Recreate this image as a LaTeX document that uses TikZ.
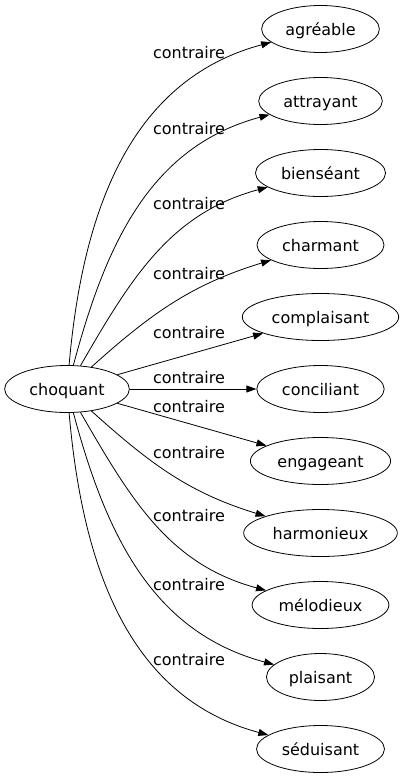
\documentclass[tikz,border=0pt]{standalone}
\usepackage{fontspec}
\setmainfont{DejaVu Sans}
\usetikzlibrary{shapes.geometric,arrows.meta}

\tikzset{
	synpicture/.style = {
		x = 1pt,
		y = -1pt,
		node distance = 72pt,
		font = \fontsize{16pt}{19pt}\selectfont,
		>={Triangle[length=10pt, width=7pt]},
		arrow/.style = {
			draw,
			->,
			line width = 0.8pt,
		}
	},
	wordnode/.style = {
		ellipse,
		draw = black,
		line width = 0.8pt,
		minimum height = 47pt,
		inner xsep = 6.5pt,
		inner ysep = 0pt,
		text height = 12pt,
		text depth = 0pt
	},
	relation/.style = {
		inner sep = 0pt,
		text height = 12pt,
		text depth = 0pt
	}
}

\begin{document}
\begin{tikzpicture}[synpicture]
	\useasboundingbox (0,0) rectangle (403,779);

	\node[wordnode] (agreable) at (320.5,29) {agréable};
	\node[wordnode, below of = agreable] (attrayant) {attrayant};
	\node[wordnode, below of = attrayant] (bienseant) {bienséant};
	\node[wordnode, below of = bienseant] (charmant) {charmant};
	\node[wordnode, below of = charmant] (complaisant) {complaisant};
	\node[wordnode, below of = complaisant] (conciliant) {conciliant};
	\node[wordnode, below of = conciliant] (engageant) {engageant};
	\node[wordnode, below of = engageant] (harmonieux) {harmonieux};
	\node[wordnode, below of = harmonieux] (melodieux) {mélodieux};
	\node[wordnode, below of = melodieux] (plaisant) {plaisant};
	\node[wordnode, below of = plaisant] (seduisant) {séduisant};
	\node[wordnode, left of = conciliant, node distance = 253.5pt] (choquant) {choquant};

	\begin{scope}[every path/.style = arrow]
		\path (choquant) to[out=85, in=195] (agreable);
		\path (choquant) to[out=75, in=195] (attrayant);
		\path (choquant) to[out=60, in=195] (bienseant);
		\path (choquant) to[out=42, in=197] (charmant);
		\path (choquant) to (complaisant);
		\path (choquant) to (conciliant);
		\path (choquant) to (engageant);
		\path (choquant) to[out=-42, in=163] (harmonieux);
		\path (choquant) to[out=-60, in=165] (melodieux);
		\path (choquant) to[out=-75, in=165] (plaisant);
		\path (choquant) to[out=-85, in=165] (seduisant);
	\end{scope}

	% edge labels
	\node[relation] (c-agreable) at (189,52) {contraire};
	\node[relation] (c-attrayant) at (189,128) {contraire};
	\node[relation] (c-bienseant) at (189,203) {contraire};
	\node[relation] (c-charmant) at (189,273) {contraire};
	\node[relation] (c-complaisant) at (189,332) {contraire};
	\node[relation] (c-conciliant) at (189,377) {contraire};
	\node[relation] (c-engageant) at (189,406) {contraire};
	\node[relation] (c-harmonieux) at (189,452) {contraire};
	\node[relation] (c-melodieux) at (189,515) {contraire};
	\node[relation] (c-plaisant) at (189,584) {contraire};
	\node[relation] (c-seduisant) at (189,659) {contraire};
\end{tikzpicture}
\end{document}
